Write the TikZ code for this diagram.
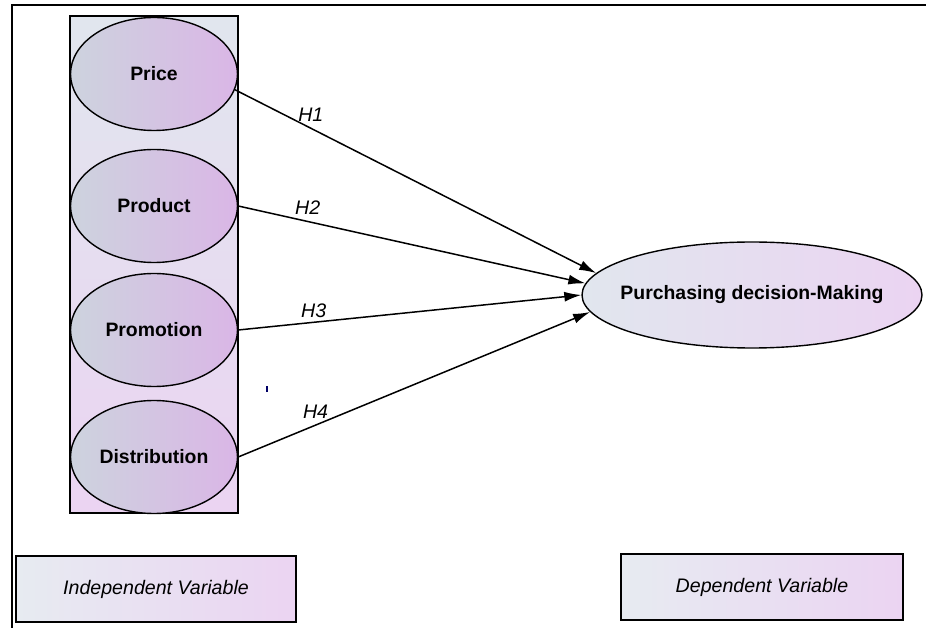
\documentclass[tikz,border=0pt]{standalone}
\usepackage{fontspec}
\setmainfont{Liberation Sans}
\usepackage{xcolor}
\usetikzlibrary{shapes.geometric,arrows.meta}

\definecolor{greyblue}{HTML}{CDD3DE}
\definecolor{lilac}{HTML}{DAB6E6}
\definecolor{paleblue}{HTML}{E1E6EE}
\definecolor{palelilac}{HTML}{EBD4F2}

\tikzset{
  var/.style={ellipse,draw,line width=0.7pt,left color=greyblue,right color=lilac,
    minimum width=83.5pt,minimum height=56.5pt,inner sep=0pt,
    font=\fontsize{9.7}{11}\selectfont\bfseries},
  legend/.style={draw,line width=1pt,left color=paleblue!80!white,right color=palelilac,
    font=\fontsize{9.8}{11}\selectfont\itshape},
  hyp/.style={font=\fontsize{9.8}{11}\selectfont\itshape,inner sep=1pt},
  arr/.style={line width=0.75pt,-{Latex[length=8.5pt,width=5pt]}}
}

\begin{document}
\begin{tikzpicture}[x=0.5pt,y=-0.5pt]
    \useasboundingbox (0,0) rectangle (926,630);
    \draw[line width=0.9pt] (926,5)--(12,5)--(12,628);

    % independent variables
    \shade[top color=paleblue,bottom color=palelilac] (70,16) rectangle (238,513);
    \draw[line width=1pt] (70,16) rectangle (238,513);
    \node[var] (price) at (154,74) {Price};
    \node[var] (product) at (154,206) {Product};
    \node[var] (promo) at (154,330) {Promotion};
    \node[var] (distr) at (154,457) {Distribution};

    % dependent variable
    \node[var,inner xsep=-10pt,minimum width=170pt,minimum height=53pt,left color=paleblue,right color=palelilac]
      (pdm) at (752,295) {Purchasing decision-Making};

    \draw[arr] (price.-11) -- node[hyp,pos=0.21,above=2pt]{H1} (pdm.172);
    \draw[arr] (product.east) -- node[hyp,pos=0.2,above=2pt]{H2} (pdm.176);
    \draw[arr] (promo.east) -- node[hyp,pos=0.22,above=1pt]{H3} (pdm.180);
    \draw[arr] (distr.east) -- node[hyp,pos=0.22,above=2pt]{H4} (pdm.186);

    \fill[blue!40!black] (265.5,386) rectangle (267.5,392);

    % legend
    \node[legend,minimum width=140pt,minimum height=33pt] (indep) at (156,589) {Independent Variable};
    \node[legend,minimum width=141pt,minimum height=33pt] (dep) at (762,587) {Dependent Variable};
\end{tikzpicture}
\end{document}
